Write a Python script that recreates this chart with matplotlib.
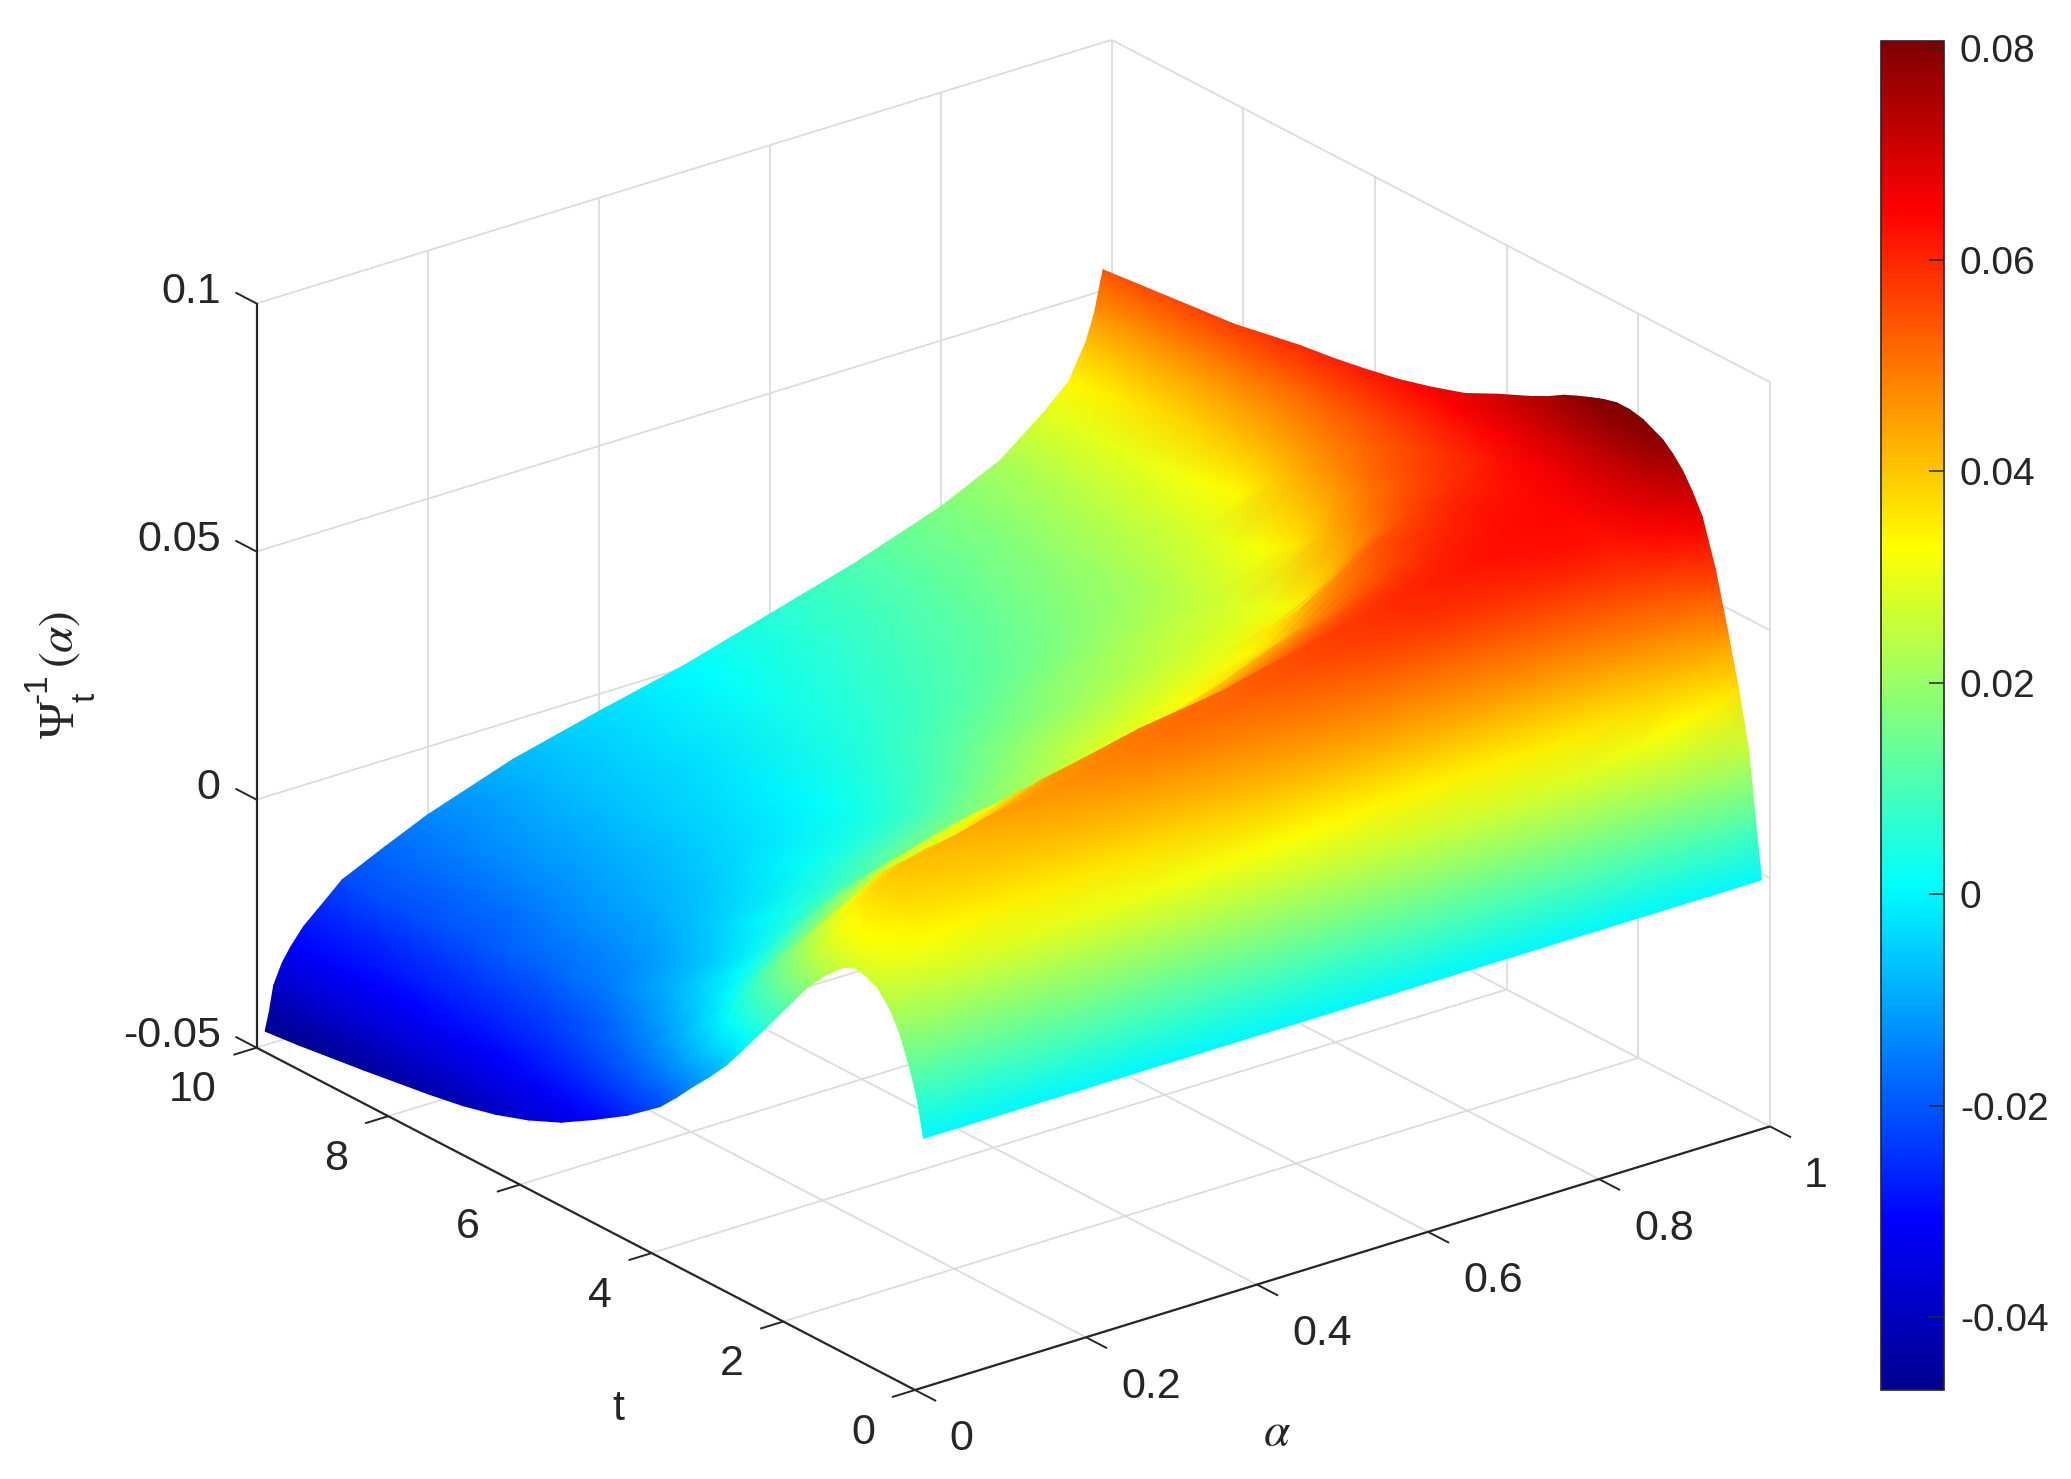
import numpy as np
import matplotlib
matplotlib.use('Agg')
import matplotlib.pyplot as plt
from matplotlib.colors import Normalize, LinearSegmentedColormap
from mpl_toolkits.mplot3d import proj3d

plt.rcParams['font.family'] = ['Liberation Sans', 'DejaVu Sans']
plt.rcParams['mathtext.fontset'] = 'stix'

W, H = 2071, 1479
INK = '#262626'
GRID = '#dcdcdc'

alpha_ticks = [0, 0.2, 0.4, 0.6, 0.8, 1]
alpha_labels = ['0', '0.2', '0.4', '0.6', '0.8', '1']
t_ticks = [0, 2, 4, 6, 8, 10]
t_labels = ['0', '2', '4', '6', '8', '10']
z_ticks = [-0.05, 0, 0.05, 0.1]
z_labels = ['-0.05', '0', '0.05', '0.1']
cbar_ticks = [-0.04, -0.02, 0, 0.02, 0.04, 0.06, 0.08]
cbar_labels = ['-0.04', '-0.02', '0', '0.02', '0.04', '0.06', '0.08']

# surface, one list per alpha, one value per t
t_rows = [0, .1, .2, .35, .5, .7, .9, 1.05, 1.2, 1.35, 1.5, 1.8, 2, 2.2, 2.4, 2.6, 2.8, 3, 3.25, 3.5, 3.75, 4,
          4.5, 5, 5.5, 6, 6.5, 7, 7.5, 8, 8.5, 9, 9.5, 10]
alpha_cols = [.01, .015, .02, .03, .04, .055, .07, .1, .15, .2, .3, .4, .5, .6, .7, .8, .87, .92, .95, .97, .98, .99]
z_cols = [
    [.0002, .0077, .0125, .0185, .0225, .0258, .027, .0273, .0264, .0246, .0226, .0178, .0138, .0098, .0058, .002, -.002, -.0058, -.0098, -.0135, -.0174, -.021, -.0262, -.0305, -.0345, -.0375, -.0398, -.0415, -.0427, -.0437, -.0447, -.0456, -.0465, -.0472],
    [.0002, .0077, .0127, .0188, .023, .0272, .029, .0296, .0292, .0282, .0264, .0205, .0168, .0128, .0092, .0055, .0015, -.0022, -.0062, -.0104, -.0142, -.018, -.0232, -.0275, -.0315, -.0345, -.0368, -.0385, -.0397, -.0407, -.0416, -.0425, -.043, -.0435],
    [.0002, .0078, .0128, .0192, .0235, .0285, .031, .0318, .032, .0312, .03, .0245, .0208, .0165, .0125, .0088, .005, .0015, -.003, -.0075, -.011, -.0145, -.02, -.0245, -.0285, -.0315, -.0337, -.0355, -.0365, -.0372, -.0375, -.0378, -.0382, -.0385],
    [.0002, .0079, .013, .0196, .0242, .0296, .032, .0332, .0335, .033, .032, .0265, .023, .019, .0155, .012, .0085, .005, .0005, -.004, -.0075, -.011, -.0165, -.0212, -.025, -.0278, -.03, -.0315, -.0325, -.033, -.0335, -.034, -.0343, -.0345],
    [.0002, .008, .0132, .02, .0248, .0305, .033, .034, .0345, .034, .033, .028, .0245, .0215, .018, .015, .0115, .008, .0035, -.001, -.0045, -.008, -.014, -.019, -.0225, -.0255, -.027, -.0285, -.0293, -.03, -.0306, -.031, -.0315, -.0318],
    [.0002, .0081, .0134, .0204, .0256, .0315, .0342, .0355, .0362, .0365, .0362, .0315, .028, .0245, .021, .0175, .014, .0105, .0065, .0015, -.0022, -.0055, -.0112, -.0158, -.0198, -.0228, -.0245, -.0258, -.0267, -.0273, -.0278, -.0283, -.0284, -.0285],
    [.0002, .0082, .0136, .0208, .0265, .0325, .0355, .037, .038, .0385, .038, .0335, .03, .0265, .023, .0195, .016, .013, .0085, .004, .0005, -.003, -.0085, -.0135, -.0175, -.0205, -.022, -.0235, -.0243, -.025, -.0255, -.026, -.0262, -.0262],
    [.0002, .0083, .0138, .0213, .0275, .0335, .0365, .0382, .039, .0402, .0405, .0365, .0328, .029, .0255, .022, .0188, .0155, .0115, .0075, .004, .0005, -.0045, -.009, -.0125, -.0155, -.0172, -.0185, -.0193, -.02, -.0206, -.0212, -.0214, -.0215],
    [.0002, .0085, .0142, .0222, .0285, .0345, .0375, .039, .04, .0412, .042, .0385, .0352, .032, .029, .026, .0235, .021, .0172, .0135, .0095, .0055, -.001, -.0055, -.009, -.012, -.0133, -.0145, -.0153, -.016, -.0165, -.017, -.0173, -.0175],
    [.0002, .0086, .0145, .0228, .0295, .035, .038, .04, .0415, .0432, .0445, .0395, .0365, .0335, .031, .029, .027, .025, .0213, .0175, .0138, .01, .004, -.0005, -.0045, -.0075, -.0092, -.0105, -.0115, -.0125, -.013, -.0135, -.0136, -.0137],
    [.0002, .0087, .0148, .0235, .0305, .036, .0405, .043, .0445, .046, .047, .0455, .043, .04, .0375, .0345, .032, .0295, .026, .0225, .0188, .015, .0105, .006, .002, -.001, -.0032, -.005, -.0058, -.0065, -.007, -.0075, -.0077, -.0078],
    [.0002, .0088, .0152, .024, .0315, .0385, .043, .0458, .048, .0495, .0505, .0495, .0465, .0435, .0405, .0375, .0345, .031, .0278, .0245, .0218, .019, .015, .0105, .0065, .0035, .0015, .0002, -.001, -.002, -.0026, -.003, -.0033, -.0035],
    [.0002, .0089, .0155, .0245, .0325, .0405, .045, .0475, .0495, .0512, .0525, .052, .049, .046, .043, .04, .0375, .035, .0325, .0295, .0275, .0255, .022, .0185, .015, .0115, .009, .0065, .005, .004, .003, .002, .0012, .0005],
    [.0002, .009, .016, .0255, .034, .042, .047, .05, .0525, .0545, .056, .056, .0535, .051, .0485, .046, .0435, .041, .037, .0335, .0312, .0295, .026, .0225, .0195, .017, .014, .0115, .01, .0085, .0075, .0065, .006, .0055],
    [.0002, .0092, .0165, .0265, .0345, .0425, .048, .052, .056, .0578, .059, .0595, .0585, .057, .055, .0525, .05, .0475, .044, .04, .0365, .0335, .0295, .0265, .024, .0215, .019, .0165, .015, .0135, .0125, .0115, .011, .0105],
    [.0002, .0095, .017, .028, .035, .0435, .05, .054, .0575, .0595, .061, .0625, .062, .0615, .0605, .0595, .0582, .057, .055, .053, .049, .044, .0345, .0305, .028, .0255, .0235, .0215, .0205, .0195, .0185, .0175, .017, .0165],
    [.0002, .0098, .0185, .0305, .037, .0455, .052, .056, .0595, .0615, .063, .0635, .0635, .0635, .063, .0625, .0618, .061, .0595, .058, .056, .054, .049, .043, .036, .032, .03, .028, .0268, .0255, .0245, .0235, .0228, .0222],
    [.0002, .0102, .02, .033, .04, .0485, .0545, .0578, .06, .0615, .0625, .0635, .0638, .064, .0638, .0635, .063, .0625, .0615, .0605, .0592, .058, .055, .052, .0475, .0435, .039, .0335, .032, .031, .03, .0295, .0292, .029],
    [.0002, .0105, .0215, .034, .0415, .05, .0575, .0615, .064, .0655, .067, .0685, .0682, .068, .0672, .0665, .0656, .0648, .0636, .0625, .0612, .06, .0575, .055, .0525, .0495, .0465, .0435, .041, .039, .0375, .036, .0348, .0338],
    [.0002, .0108, .0225, .0345, .043, .0525, .0605, .065, .0685, .0705, .072, .0735, .0733, .073, .0722, .0715, .0705, .0695, .068, .0665, .065, .0635, .061, .0585, .056, .0535, .0508, .048, .046, .0445, .0432, .042, .0413, .0407],
    [.0002, .012, .024, .0355, .0445, .055, .0635, .068, .072, .075, .077, .0785, .0785, .0785, .0775, .0765, .0752, .074, .0722, .0705, .069, .0675, .0645, .062, .0595, .057, .0545, .052, .0505, .0495, .0485, .0475, .0468, .046],
    [.0002, .013, .0255, .0365, .046, .058, .0672, .0712, .0745, .0768, .0786, .0806, .0812, .0812, .0805, .0795, .0784, .0772, .0752, .0735, .072, .0705, .0672, .065, .0631, .0617, .0605, .0596, .0583, .057, .0563, .0556, .0549, .0542],
]

# matlab jet, the breakpoints differ a little from the matplotlib one
jet_colors = [(0, 0, .5625), (0, 0, 1), (0, 1, 1), (1, 1, 0), (1, 0, 0), (.5, 0, 0)]
jet_stops = [0, 1 / 8, 3 / 8, 5 / 8, 7 / 8, 1]
matlab_jet = LinearSegmentedColormap.from_list('matlab_jet', list(zip(jet_stops, jet_colors)), N=256)

fig = plt.figure(figsize=(W / 100, H / 100), dpi=100)
ax = fig.add_axes([0, 0, 1, 1], projection='3d', proj_type='ortho')
ax.view_init(elev=23.6, azim=-127.6)
ax.set_xlim(0, 1, view_margin=0)
ax.set_ylim(0, 10, view_margin=0)
ax.set_zlim(-0.05, 0.1, view_margin=0)
ax.set_axis_off()
aspect = (1, 1, 0.7526)
ax.set_box_aspect(aspect)


def to_px(a, t, z):
    xs, ys, _ = proj3d.proj_transform(np.ravel(a), np.ravel(t), np.ravel(z), ax.get_proj())
    return ax.transData.transform(np.column_stack([xs, ys]))


# scale and move the 3d box onto the reference frame
fig.canvas.draw()
p = to_px([0, 1], [0, 0], [-0.05, -0.05])
ax.set_box_aspect(aspect, zoom=855.0 / (p[1, 0] - p[0, 0]))
fig.canvas.draw()
p = to_px([0], [0], [-0.05])[0]
pos = ax.get_position()
ax.set_position([pos.x0 + (915 - p[0]) / W, pos.y0 + (H - 1390 - p[1]) / H, pos.width, pos.height])
fig.canvas.draw()


def line3(a, t, z, color=GRID, lw=1.3):
    ax.plot(a, t, z, color=color, lw=lw, clip_on=False, solid_capstyle='butt')


zlo, zhi = z_ticks[0], z_ticks[-1]
for a in alpha_ticks[1:]:
    line3([a, a], [0, 10], [zlo, zlo])
    line3([a, a], [10, 10], [zlo, zhi])
for t in t_ticks[:-1]:
    line3([0, 1], [t, t], [zlo, zlo])
    line3([1, 1], [t, t], [zlo, zhi])
line3([0, 1], [10, 10], [zlo, zlo])
for z in z_ticks[1:]:
    line3([0, 1], [10, 10], [z, z])
    line3([1, 1], [0, 10], [z, z])

line3([0, 1], [0, 0], [zlo, zlo], INK, 1.6)
line3([0, 0], [0, 10], [zlo, zlo], INK, 1.6)
line3([0, 0], [10, 10], [zlo, zhi], INK, 1.6)
for a in alpha_ticks:
    line3([a, a], [0, -0.32], [zlo, zlo], INK, 1.4)
for t in t_ticks:
    line3([0, -0.027], [t, t], [zlo, zlo], INK, 1.4)
for z in z_ticks:
    line3([0, 0], [10, 10.32], [z, z], INK, 1.4)

# the surface goes on a flat pixel layer so gouraud shading can be used
layer = fig.add_axes([0, 0, 1, 1])
layer.set_xlim(0, W)
layer.set_ylim(0, H)
layer.axis('off')
layer.patch.set_alpha(0)

z_grid = np.array(z_cols).T
a_grid, t_grid = np.meshgrid(alpha_cols, t_rows)
pts = to_px(a_grid, t_grid, z_grid).reshape(a_grid.shape + (2,))
norm = Normalize(-0.0469, 0.0807)
# back to front: the surface folds behind itself along the ridge
mesh = layer.pcolormesh(pts[::-1, ::-1, 0], pts[::-1, ::-1, 1], z_grid[::-1, ::-1],
                        shading='gouraud', cmap=matlab_jet, norm=norm)
layer.set_xlim(0, W)
layer.set_ylim(0, H)

FS = 31
for a, s in zip(alpha_ticks, alpha_labels):
    x, y = to_px([a], [0], [zlo])[0]
    layer.text(x + (65 if len(s) > 1 else 46), y - 45, s, fontsize=FS, color=INK, ha='center', va='center_baseline')
for t, s in zip(t_ticks, t_labels):
    x, y = to_px([0], [t], [zlo])[0]
    layer.text(x - 40, y - 38, s, fontsize=FS, color=INK, ha='right', va='center_baseline')
for z, s in zip(z_ticks, z_labels):
    x, y = to_px([0], [10], [z])[0]
    layer.text(x - 36, y + 16, s, fontsize=FS, color=INK, ha='right', va='center_baseline')

layer.text(618, H - 1409, 't', fontsize=FS, color=INK, ha='center', va='center')
layer.text(1277, H - 1433, r'$\alpha$', fontsize=34, color=INK, ha='center', va='center')
layer.text(62, H - 720, '\u03a8', family='Liberation Serif', fontsize=36, color=INK,
           rotation=90, ha='center', va='center')
layer.text(86, H - 697, 't', fontsize=24, color=INK, rotation=90, ha='center', va='center')
layer.text(38, H - 688, '-1', fontsize=24, color=INK, rotation=90, ha='center', va='center')
layer.text(60, H - 639, r'$(\alpha)$', fontsize=34, color=INK, rotation=90, ha='center', va='center')

cax = fig.add_axes([1881 / W, (H - 1390) / H, 63 / W, 1349 / H])
cb = fig.colorbar(mesh, cax=cax)
cb.set_ticks(cbar_ticks, labels=cbar_labels)
cb.ax.tick_params(direction='in', length=10.8, width=1.1, color=INK, labelsize=28, labelcolor=INK, pad=11.5)
cb.outline.set_edgecolor(INK)
cb.outline.set_linewidth(1.2)

fig.savefig('out.png', dpi=100)
